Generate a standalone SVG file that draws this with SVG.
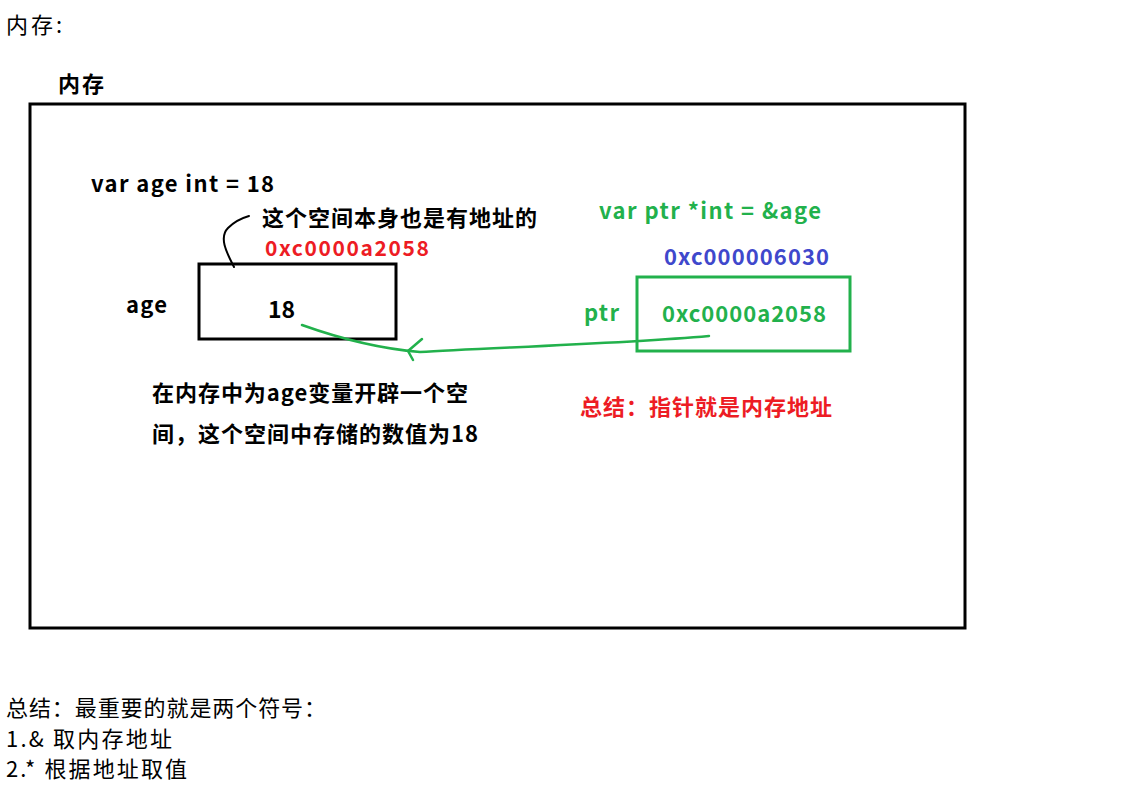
<svg xmlns="http://www.w3.org/2000/svg" width="1138" height="794" viewBox="0 0 1138 794">
<style>
text{font-family:"Noto Sans CJK SC","Noto Sans",sans-serif;font-size:22px;fill:#000}
.b{font-weight:bold}
.g{fill:#22b14c}
.r{fill:#ed1c24}
.bl{fill:#3f48cc}
</style>
<rect width="1138" height="794" fill="#fff"/>
<text x="6" y="33" textLength="56">内存:</text>
<text x="58" y="92" class="b" textLength="46">内存</text>
<g id="memory"><rect x="30" y="104" width="935" height="524" fill="none" stroke="#000" stroke-width="3"/></g>
<text x="91" y="192" class="b" textLength="183">var age int = 18</text>
<text x="262" y="226" class="b" textLength="275">这个空间本身也是有地址的</text>
<text x="265" y="256" class="b r" style="font-size:21px" textLength="164">0xc0000a2058</text>
<g id="age"><rect x="199" y="264" width="197" height="75" fill="none" stroke="#000" stroke-width="3"/>
<text x="126" y="313" class="b" textLength="41">age</text>
<text x="268" y="318" class="b" style="font-size:23px">18</text></g>
<g id="ptr"><rect x="637" y="277" width="213" height="74" fill="none" stroke="#22b14c" stroke-width="3"/>
<text x="584" y="321" class="b g" textLength="35">ptr</text>
<text x="662" y="322" class="b g" textLength="164">0xc0000a2058</text>
<text x="664" y="265" class="b bl" textLength="165">0xc000006030</text></g>
<text x="599" y="219" class="b g" textLength="222">var ptr *int = &amp;age</text>
<text x="152" y="401" class="b" textLength="316">在内存中为age变量开辟一个空</text>
<text x="152" y="442" class="b" textLength="326">间，这个空间中存储的数值为18</text>
<text x="580" y="415" class="b r" textLength="252">总结：指针就是内存地址</text>
<g id="connectors" fill="none" stroke-linecap="round" stroke-linejoin="round">
<path d="M234,267 C228,255 218,238 228,228 C234,222 242,218 249,216" stroke="#000" stroke-width="2"/>
<path d="M709,336 C620,344 480,348 420,352 C370,348 330,335 302,325" stroke="#22b14c" stroke-width="2.5"/>
<path d="M422,339 L408,351 L413,360" stroke="#22b14c" stroke-width="2.5"/>
</g>
<text x="6" y="716" textLength="320">总结：最重要的就是两个符号：</text>
<text x="6" y="747" textLength="166">1.&amp; 取内存地址</text>
<text x="6" y="777" textLength="181">2.* 根据地址取值</text>
</svg>
